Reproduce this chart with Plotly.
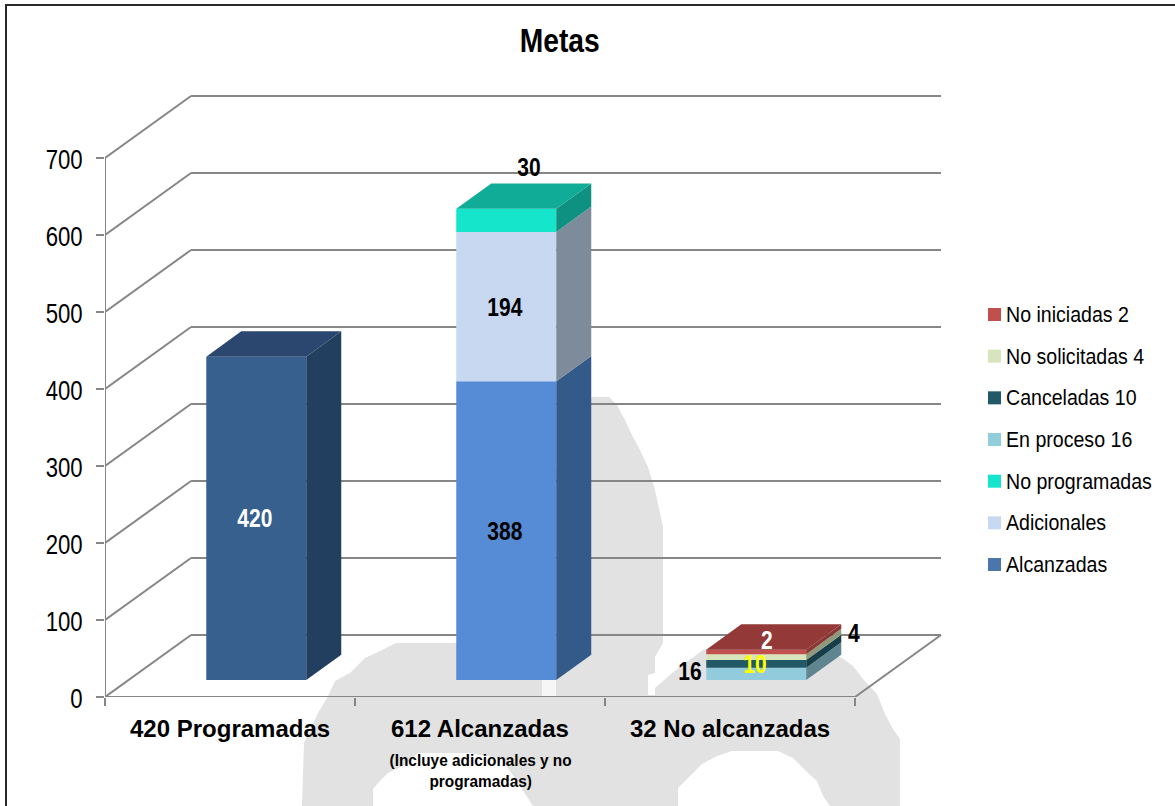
import json
import plotly.graph_objects as go

W, H = 1175, 806

# ---------- data ----------
categories = ["420 Programadas", "612 Alcanzadas", "32 No alcanzadas"]
sub_labels = ["(Incluye adicionales y no", "programadas)"]
chart_title = "Metas"
y_ticks = [0, 100, 200, 300, 400, 500, 600, 700]

series_names = ["Programadas", "Alcanzadas", "Adicionales", "No programadas",
                "En proceso", "Canceladas", "No solicitadas", "No iniciadas"]
programadas = [420, 0, 0]
alcanzadas = [0, 388, 0]
adicionales = [0, 194, 0]
no_programadas = [0, 30, 0]
en_proceso = [0, 0, 16]
canceladas = [0, 0, 10]
# thin slabs are drawn thicker than their labels (4 and 2) in the reference
no_solicitadas = [0, 0, 7.5]
no_iniciadas = [0, 0, 6]
series_values = [programadas, alcanzadas, adicionales, no_programadas,
                 en_proceso, canceladas, no_solicitadas, no_iniciadas]

front_colors = ["#37608f", "#568cd6", "#c7d8f0", "#14e5cb", "#92cbdc", "#215967", "#d8e4bc", "#c0504d"]
side_colors = ["#223f60", "#345a89", "#7d8b9a", "#0e9180", "#5f8590", "#163f49", "#8f9a7c", "#8a3836"]
top_colors = ["#2b476f", "#345a89", "#7d8b9a", "#10ac98", "#5f8590", "#163f49", "#8f9a7c", "#933a38"]

legend_labels = ["No iniciadas 2", "No solicitadas 4", "Canceladas 10", "En proceso 16",
                 "No programadas", "Adicionales", "Alcanzadas"]
legend_colors = ["#c0504d", "#d7e4bc", "#215967", "#92cddc", "#14e5cb", "#c6d9f1", "#4a76ab"]

# (series index, category index, text, colour, x shift px, y shift px)
value_labels = [
    (0, 0, "420", "white", -1, 0),
    (1, 1, "388", "black", -1, 0),
    (2, 1, "194", "black", -1, 0),
    (3, 1, "30", "black", 23, 53),
    (4, 2, "16", "black", -66, 3),
    (5, 2, "10", "#ffff00", -1, 0),
    (6, 2, "4", "black", 98, 24),
    (7, 2, "2", "white", 11, 12),
]

# ---------- projection set-up ----------
X0_PX, Y0_PX = 105, 697
PX_PER_CAT, PX_PER_UNIT = 250, 0.77
WALL_DX, WALL_DY = 0.344, 80.5      # depth of the floor, in axis units
BAR_DX, BAR_DY = 0.14, 33           # depth of a column
BAR_START, BAR_W = 0.405, 0.40      # column offset inside its category
BAR_BASE = 22                       # column sits forward on the floor
X_MAX, Y_MAX = 3.36, 790
GRID = "#868686"
SANS = "Liberation Sans"


def px(x):
    return x / W


def py(y):
    return 1 - y / H


fig = go.Figure()
shapes = []

# watermark (page pixels)
watermark_px = [(302, 806), (304, 743), (312, 726), (318, 713), (327, 698), (335, 681), (350, 673), (365, 658),
                (380, 651), (396, 643), (470, 643), (592, 397), (609, 397), (617, 405), (625, 420), (632, 435),
                (640, 450), (648, 467), (655, 490), (663, 527), (663, 643), (655, 657), (655, 673), (648, 675),
                (648, 695), (655, 695), (655, 688), (663, 681), (672, 673), (703, 650), (740, 642), (800, 642),
                (842, 658), (853, 666), (863, 679), (877, 694), (885, 714), (893, 729), (900, 739), (900, 806),
                (830, 806), (823, 796), (817, 781), (808, 773), (793, 758), (778, 751), (732, 751), (717, 756),
                (702, 764), (693, 773), (687, 779), (678, 788), (678, 806), (533, 806), (518, 783), (502, 759),
                (470, 753), (418, 753), (403, 766), (388, 773), (380, 781), (373, 789), (373, 806)]
path = "M" + " L".join(f"{px(a):.5f},{py(b):.5f}" for a, b in watermark_px) + " Z"
shapes.append(dict(type="path", path=path, xref="paper", yref="paper", layer="below",
                   fillcolor="#e2e2e2", line=dict(width=0)))
shapes.append(dict(type="rect", xref="paper", yref="paper", x0=px(542), x1=px(556), y0=py(680), y1=py(696),
                   layer="below", fillcolor="#f6f6f6", line=dict(width=0)))

# wall and floor lines
n_cat = len(categories)
for v in y_ticks:
    shapes.append(dict(type="line", xref="x", yref="y", x0=0, y0=v, x1=WALL_DX, y1=v + WALL_DY,
                       layer="below", line=dict(color=GRID, width=2)))
    shapes.append(dict(type="line", xref="x", yref="y", x0=WALL_DX, y0=v + WALL_DY,
                       x1=n_cat + WALL_DX, y1=v + WALL_DY, layer="below", line=dict(color=GRID, width=2)))
shapes.append(dict(type="line", xref="x", yref="y", x0=n_cat, y0=0, x1=n_cat + WALL_DX, y1=WALL_DY,
                   layer="below", line=dict(color=GRID, width=2)))

# chart frame: only its top and left edges fall inside the picture
shapes.append(dict(type="rect", xref="paper", yref="paper", x0=px(6), x1=px(1190), y0=py(5), y1=py(830),
                   layer="below", line=dict(color="#2a2a2a", width=2), fillcolor="rgba(0,0,0,0)"))

# axis lines
fig.add_trace(go.Scatter(x=[0, 0, n_cat], y=[max(y_ticks), 0, 0], mode="lines", cliponaxis=False,
                         line=dict(color=GRID, width=2), hoverinfo="skip", showlegend=False))

# columns: front face via bars, side and top faces from the same values
stack = [BAR_BASE] * n_cat
segments = {}
for s, (name, vals) in enumerate(zip(series_names, series_values)):
    xs, ys, bases = [], [], []
    for c, v in enumerate(vals):
        if v:
            xs.append(c + BAR_START + BAR_W / 2)
            ys.append(v)
            bases.append(stack[c])
            segments[(s, c)] = (stack[c], v)
            stack[c] += v
    fig.add_trace(go.Bar(x=xs, y=ys, base=bases, width=BAR_W, name=name,
                         marker=dict(color=front_colors[s], line=dict(width=0)), showlegend=False))


def face(xs, ys, color):
    fig.add_trace(go.Scatter(x=xs, y=ys, fill="toself", fillcolor=color, mode="lines",
                             line=dict(width=0, color=color), hoverinfo="skip", showlegend=False))


for (s, c), (b, v) in segments.items():
    r = c + BAR_START + BAR_W
    face([r, r + BAR_DX, r + BAR_DX, r, r], [b, b + BAR_DY, b + v + BAR_DY, b + v, b], side_colors[s])
for c in range(n_cat):
    top_s = max(s for (s, cc) in segments if cc == c)
    l = c + BAR_START
    t = stack[c]
    face([l, l + BAR_W, l + BAR_W + BAR_DX, l + BAR_DX, l], [t, t, t + BAR_DY, t + BAR_DY, t], top_colors[top_s])

annotations = []
squeeze = {}     # text -> horizontal squeeze, the reference's type is condensed
CENTER = dict(showarrow=False, xanchor="center", yanchor="middle")
for s, c, text, color, dx, dy in value_labels:
    b, v = segments[(s, c)]
    annotations.append(dict(x=c + BAR_START + BAR_W / 2, y=b + v / 2, xref="x", yref="y", text=text,
                            xshift=dx, yshift=dy,
                            font=dict(family=SANS, size=25, color=color, weight="bold"), **CENTER))
    squeeze[text] = 0.84

# title
annotations.append(dict(x=px(560), y=py(41), xref="paper", yref="paper", text=chart_title,
                        font=dict(family=SANS, size=33, color="black", weight="bold"), **CENTER))
squeeze[chart_title] = 0.855

# category labels
for i, cat in enumerate(categories):
    annotations.append(dict(x=i + 0.5, y=py(728), xref="x", yref="paper", text=cat,
                            font=dict(family=SANS, size=24, color="black", weight="bold"), **CENTER))
for text, yy in zip(sub_labels, (760, 781)):
    annotations.append(dict(x=1.5, y=py(yy), xref="x", yref="paper", text=text,
                            font=dict(family=SANS, size=17, color="black", weight="bold"), **CENTER))
    squeeze[text] = 0.905

# legend
LEG_TOP, LEG_STEP = 314.5, 41.67
for i, (lab, col) in enumerate(zip(legend_labels, legend_colors)):
    yc = LEG_TOP + i * LEG_STEP
    shapes.append(dict(type="rect", xref="paper", yref="paper", x0=px(988), x1=px(1001),
                       y0=py(yc - 6.5), y1=py(yc + 6.5), fillcolor=col, line=dict(width=0)))
    annotations.append(dict(x=px(1004), y=py(yc), xref="paper", yref="paper", text=lab, showarrow=False,
                            xanchor="left", yanchor="middle", align="left",
                            font=dict(family=SANS, size=22, color="black")))
    squeeze[lab] = 0.89

fig.update_layout(
    width=W, height=H, autosize=False, margin=dict(l=0, r=0, t=0, b=0, pad=0),
    paper_bgcolor="white", plot_bgcolor="rgba(0,0,0,0)", barmode="overlay", showlegend=False,
    shapes=shapes, annotations=annotations,
    xaxis=dict(domain=[px(X0_PX), px(X0_PX + X_MAX * PX_PER_CAT)], range=[0, X_MAX], showgrid=False, zeroline=False,
               showline=False, automargin=False, tickmode="array", tickvals=list(range(n_cat + 1)),
               ticktext=[""] * (n_cat + 1), ticks="outside", ticklen=8, tickwidth=2, tickcolor=GRID),
    yaxis=dict(domain=[py(Y0_PX), py(Y0_PX - Y_MAX * PX_PER_UNIT)], range=[0, Y_MAX], showgrid=False, zeroline=False,
               showline=False, automargin=False, tickmode="array", tickvals=y_ticks, ticks="outside", ticklen=8,
               tickwidth=2, tickcolor=GRID, ticklabelstandoff=8,
               tickfont=dict(family=SANS, size=27, color="black")),
)

post = """
document.body.style.margin='0';document.body.style.overflow='hidden';
var sq = %s;
function fit(t, k){ var n = t.getComputedTextLength();
  t.setAttribute('textLength', n*k); t.setAttribute('lengthAdjust', 'spacingAndGlyphs'); }
document.querySelectorAll('.ytick text').forEach(function(t){ fit(t, 0.82); t.setAttribute('dy','2'); });
document.querySelectorAll('.annotation-text').forEach(function(t){
  var k = sq[t.textContent]; if (k) fit(t, k); });
""" % json.dumps(squeeze)

fig.write_html("out.html", post_script=post, config={"displayModeBar": False})
